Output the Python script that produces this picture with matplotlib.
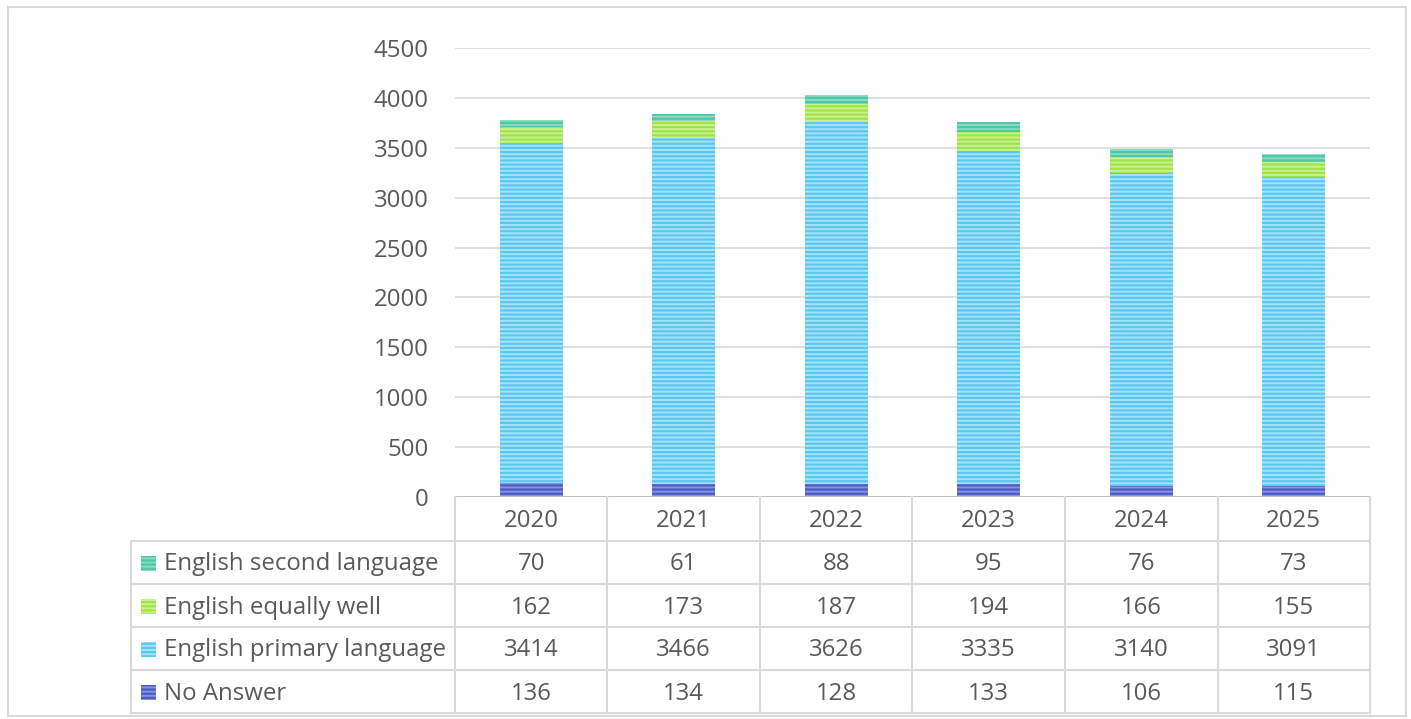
import matplotlib
matplotlib.use("Agg")
import matplotlib.pyplot as plt
from matplotlib.patches import Rectangle
import numpy as np

years = ["2020", "2021", "2022", "2023", "2024", "2025"]
series_names = ["No Answer", "English primary language", "English equally well", "English second language"]
no_answer = [136, 134, 128, 133, 106, 115]
primary = [3414, 3466, 3626, 3335, 3140, 3091]
equally = [162, 173, 187, 194, 166, 155]
second = [70, 61, 88, 95, 76, 73]
yticks = [0, 500, 1000, 1500, 2000, 2500, 3000, 3500, 4000, 4500]

series_values = [no_answer, primary, equally, second]
face_colors = ["#8793E0", "#A6E2F8", "#C8F290", "#88DCC2"]
hatch_colors = ["#4B5CC6", "#5BC8F2", "#A2E24A", "#4FC7A4"]

plt.rcParams['font.family'] = ['Open Sans', 'DejaVu Sans']
plt.rcParams['hatch.linewidth'] = 1.6
txt = "#595959"
grid = "#D9D9D9"
fs = 17.3

W, H = 1411, 719
fig = plt.figure(figsize=(W / 100, H / 100), dpi=100)

# outer border
fig.patches.append(Rectangle((8 / W, 1 - 716 / H), (1406 - 8) / W, (716 - 7) / H,
                             transform=fig.transFigure, fill=False, edgecolor="#D9D9D9", lw=1.5))

ax = fig.add_axes([455 / W, 1 - 497 / H, (1370 - 455) / W, (497 - 48) / H])
x = np.arange(len(years))
bottom = np.zeros(len(years))
for vals, fc, hc in zip(series_values, face_colors, hatch_colors):
    ax.bar(x, vals, width=0.41, bottom=bottom, color=fc, edgecolor=hc, hatch="----", linewidth=0, zorder=3)
    bottom += np.array(vals)

ax.set_xlim(-0.5, 5.5)
ax.set_ylim(0, 4500)
ax.set_yticks(yticks)
ax.set_yticklabels([str(v) for v in yticks], fontsize=fs, color=txt)
ax.tick_params(axis='y', length=0, pad=19)
ax.set_xticks([])
for s in ax.spines.values():
    s.set_visible(False)
for v in yticks[1:]:
    ax.axhline(v, color=grid, lw=1.2, zorder=1)
ax.axhline(0, color="#BFBFBF", lw=2.2, zorder=4)

# data table
tax = fig.add_axes([131 / W, 1 - 713 / H, (1370 - 131) / W, (713 - 497) / H])
left_edge = -0.5 - (455 - 131) / 152.5
tax.set_xlim(left_edge, 5.5)
tax.set_ylim(216, 0)
tax.axis("off")
row_bounds = [0, 44, 87, 130, 173, 216]
for xv in np.arange(-0.5, 6.0, 1.0):
    tax.plot([xv, xv], [0, 216], color=grid, lw=1.5, clip_on=False)
tax.plot([left_edge, left_edge], [44, 216], color=grid, lw=1.5, clip_on=False)
for yv in row_bounds[1:]:
    tax.plot([left_edge, 5.5], [yv, yv], color=grid, lw=1.5, clip_on=False)

dy = 2
for i, yr in enumerate(years):
    tax.text(i, (row_bounds[0] + row_bounds[1]) / 2 + dy, yr, ha="center", va="center", fontsize=fs, color=txt)

order = [3, 2, 1, 0]
for r, si in enumerate(order):
    yc = (row_bounds[r + 1] + row_bounds[r + 2]) / 2
    tax.add_patch(Rectangle((left_edge + 10 / 152.5, yc - 7), 15 / 152.5, 15,
                            facecolor=face_colors[si], edgecolor=hatch_colors[si],
                            hatch="----", linewidth=0, clip_on=False))
    tax.text(left_edge + 33 / 152.5, yc + dy, series_names[si], ha="left", va="center", fontsize=fs, color=txt)
    for i, v in enumerate(series_values[si]):
        tax.text(i, yc + dy, str(v), ha="center", va="center", fontsize=fs, color=txt)

fig.savefig("out.png", dpi=100)
